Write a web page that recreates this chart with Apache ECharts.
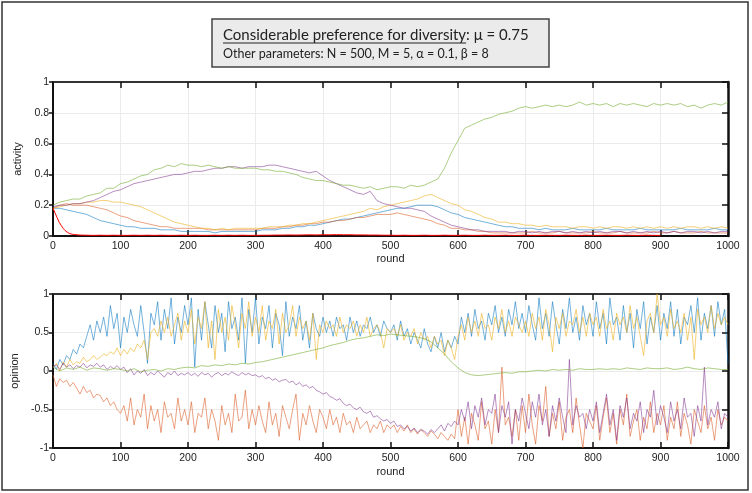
<!DOCTYPE html>
<html>
<head>
<meta charset="utf-8">
<script src="https://cdn.jsdelivr.net/npm/echarts@6/dist/echarts.min.js"></script>
<style>
  html, body { margin: 0; padding: 0; background: #fff; }
  #chart { width: 752px; height: 493px; }
</style>
</head>
<body>
<div id="chart"></div>
<script>
// sampling grids (rounds)
const rounds10 = Array.from({ length: 101 }, (_, i) => i * 10);
const rounds5 = Array.from({ length: 201 }, (_, i) => i * 5);
const redRounds = [0, 3, 6, 9, 12, 15, 18, 21, 25, 30].concat(rounds10.slice(4));

const xTicks = { min: 0, max: 1000, step: 100 };
const activityTicks = { min: 0, max: 1, step: 0.2 };
const opinionTicks = { min: -1, max: 1, step: 0.5 };

// activity, read every 10 rounds
const actBlue = [
  0.18,0.18,0.17,0.16,0.15,0.14,0.12,0.10,0.09,0.08,
  0.07,0.06,0.06,0.05,0.05,0.05,0.04,0.04,0.04,0.03,
  0.03,0.03,0.03,0.03,0.02,0.03,0.03,0.03,0.03,0.03,
  0.03,0.04,0.04,0.04,0.05,0.05,0.06,0.06,0.07,0.07,
  0.08,0.09,0.10,0.11,0.11,0.12,0.13,0.14,0.15,0.16,
  0.17,0.18,0.18,0.19,0.20,0.20,0.20,0.19,0.17,0.15,
  0.14,0.12,0.11,0.10,0.09,0.08,0.07,0.06,0.06,0.05,
  0.05,0.05,0.04,0.05,0.04,0.04,0.04,0.05,0.04,0.04,
  0.04,0.04,0.05,0.04,0.04,0.04,0.04,0.05,0.04,0.04,
  0.04,0.04,0.04,0.05,0.04,0.04,0.04,0.04,0.05,0.04,
  0.04
];
const actSalmon = [
  0.18,0.20,0.21,0.20,0.20,0.20,0.19,0.18,0.17,0.15,
  0.13,0.12,0.10,0.09,0.08,0.07,0.06,0.06,0.05,0.05,
  0.05,0.05,0.05,0.04,0.04,0.04,0.04,0.04,0.04,0.04,
  0.04,0.05,0.05,0.05,0.06,0.06,0.07,0.07,0.08,0.08,
  0.09,0.09,0.10,0.10,0.11,0.12,0.12,0.13,0.14,0.14,
  0.14,0.15,0.14,0.13,0.12,0.11,0.10,0.08,0.07,0.05,
  0.05,0.04,0.04,0.03,0.03,0.02,0.02,0.02,0.02,0.02,
  0.02,0.03,0.02,0.02,0.02,0.03,0.02,0.02,0.02,0.02,
  0.03,0.02,0.02,0.02,0.03,0.02,0.02,0.02,0.02,0.03,
  0.02,0.02,0.03,0.02,0.02,0.02,0.03,0.02,0.02,0.02,
  0.02
];
const actYellow = [
  0.18,0.19,0.20,0.21,0.21,0.22,0.22,0.23,0.23,0.22,
  0.22,0.21,0.20,0.19,0.17,0.15,0.13,0.11,0.09,0.08,
  0.07,0.06,0.05,0.05,0.04,0.05,0.04,0.05,0.05,0.05,
  0.05,0.05,0.06,0.06,0.06,0.07,0.07,0.08,0.08,0.09,
  0.10,0.11,0.12,0.13,0.14,0.15,0.16,0.18,0.17,0.19,
  0.20,0.21,0.22,0.23,0.24,0.26,0.27,0.25,0.23,0.21,
  0.20,0.17,0.16,0.14,0.12,0.11,0.09,0.09,0.08,0.08,
  0.07,0.07,0.06,0.07,0.06,0.06,0.06,0.05,0.06,0.06,
  0.05,0.06,0.05,0.06,0.06,0.05,0.06,0.05,0.06,0.05,
  0.06,0.05,0.06,0.05,0.06,0.06,0.05,0.06,0.05,0.06,
  0.05
];
const actPurple = [
  0.19,0.20,0.20,0.21,0.21,0.22,0.23,0.25,0.27,0.29,
  0.30,0.32,0.34,0.35,0.36,0.37,0.38,0.39,0.40,0.40,
  0.41,0.42,0.42,0.43,0.44,0.44,0.45,0.45,0.44,0.45,
  0.45,0.45,0.46,0.46,0.45,0.44,0.43,0.42,0.41,0.42,
  0.39,0.36,0.34,0.32,0.30,0.28,0.27,0.29,0.23,0.21,
  0.20,0.19,0.18,0.18,0.17,0.16,0.13,0.11,0.09,0.07,
  0.06,0.05,0.04,0.04,0.03,0.03,0.03,0.03,0.02,0.03,
  0.03,0.02,0.03,0.02,0.03,0.03,0.02,0.03,0.02,0.03,
  0.02,0.03,0.02,0.03,0.03,0.02,0.03,0.02,0.03,0.02,
  0.03,0.02,0.03,0.02,0.03,0.03,0.02,0.03,0.02,0.03,
  0.03
];
const actGreen = [
  0.20,0.22,0.23,0.24,0.24,0.26,0.27,0.28,0.31,0.31,
  0.34,0.35,0.37,0.39,0.40,0.43,0.44,0.46,0.45,0.47,
  0.46,0.46,0.45,0.46,0.45,0.44,0.45,0.44,0.44,0.44,
  0.44,0.43,0.43,0.42,0.42,0.41,0.40,0.38,0.37,0.36,
  0.36,0.35,0.34,0.33,0.33,0.32,0.31,0.32,0.30,0.31,
  0.32,0.32,0.31,0.33,0.32,0.33,0.35,0.37,0.44,0.54,
  0.62,0.70,0.72,0.74,0.76,0.77,0.79,0.80,0.81,0.83,
  0.84,0.83,0.84,0.85,0.84,0.85,0.84,0.85,0.87,0.85,
  0.86,0.85,0.86,0.84,0.86,0.85,0.86,0.85,0.84,0.86,
  0.85,0.86,0.85,0.86,0.84,0.85,0.83,0.85,0.86,0.85,
  0.87
];
const actRed = [
  0.18,0.15,0.12,0.09,0.07,0.05,0.035,0.025,0.015,0.01,
  0.006,0.005,0.004,0.005,0.004,0.005,0.004,0.004,0.005,0.004,
  0.005,0.004,0.005,0.004,0.004,0.005,0.004,0.005,0.004,0.004,
  0.005,0.004,0.005,0.004,0.005,0.004,0.004,0.005,0.005,0.006,
  0.006,0.007,0.006,0.007,0.008,0.007,0.008,0.008,0.009,0.008,
  0.008,0.007,0.007,0.006,0.006,0.005,0.005,0.004,0.005,0.004,
  0.004,0.005,0.004,0.004,0.005,0.004,0.004,0.005,0.004,0.004,
  0.005,0.004,0.004,0.005,0.004,0.004,0.005,0.004,0.004,0.005,
  0.004,0.004,0.005,0.004,0.004,0.005,0.004,0.004,0.005,0.004,
  0.004,0.005,0.004,0.004,0.005,0.004,0.004
];

// opinion, read every 5 rounds (noisy) or every 10 rounds (green)
const opBlue = [
  0.10,0.02,0.15,0.08,0.20,0.15,0.28,0.22,0.35,0.30,0.45,0.60,0.40,0.65,0.50,0.70,0.45,0.85,0.55,0.75,
  0.30,0.70,0.50,0.80,0.60,0.45,0.85,0.50,0.10,0.75,0.60,0.90,0.40,0.80,0.55,0.95,0.35,0.70,0.50,0.85,
  0.60,0.95,0.05,0.80,0.40,0.90,0.60,0.30,0.85,0.50,0.75,0.25,0.90,0.55,0.70,0.40,0.95,0.10,0.80,0.50,
  0.95,0.35,0.70,0.55,0.85,0.30,0.75,0.60,0.20,0.90,0.45,0.70,0.55,0.85,0.40,0.65,0.30,0.75,0.55,0.45,
  0.70,0.50,0.65,0.45,0.70,0.55,0.60,0.40,0.70,0.50,0.65,0.45,0.60,0.55,0.70,0.50,0.60,0.45,0.65,0.55,
  0.50,0.60,0.40,0.65,0.45,0.55,0.35,0.50,0.40,0.30,0.55,0.35,0.25,0.45,0.30,0.50,0.25,0.40,0.30,0.45,
  0.35,0.70,0.50,0.75,0.45,0.80,0.55,0.65,0.40,0.75,0.60,0.85,0.50,0.70,0.45,0.80,0.60,0.90,0.55,0.75,
  0.50,0.85,0.60,0.40,0.95,0.55,0.75,0.45,0.90,0.60,0.35,0.80,0.55,0.95,0.50,0.70,0.40,0.85,0.60,0.75,
  0.45,0.90,0.55,0.75,0.35,0.95,0.60,0.70,0.40,0.85,0.50,0.75,0.30,0.80,0.55,0.90,0.35,0.70,0.50,0.85,
  0.40,0.75,0.55,0.90,0.45,0.80,0.35,0.70,0.60,0.85,0.50,0.95,0.40,0.75,0.55,0.85,0.45,0.90,0.60,0.80,
  0.10
];
const opOrange = [
  -0.05,-0.20,-0.10,-0.15,-0.12,-0.20,-0.15,-0.22,-0.30,-0.20,-0.28,-0.25,-0.35,-0.30,-0.32,-0.40,-0.35,-0.45,-0.40,-0.50,
  -0.55,-0.45,-0.65,-0.35,-0.70,-0.50,-0.60,-0.30,-0.75,-0.45,-0.65,-0.50,-0.80,-0.40,-0.60,-0.55,-0.75,-0.35,-0.65,-0.50,
  -0.70,-0.40,-0.80,-0.55,-0.60,-0.35,-0.75,-0.50,-0.65,-0.90,-0.45,-0.70,-0.55,-0.80,-0.30,-0.65,-0.60,-0.25,-0.75,-0.50,
  -0.70,-0.45,-0.65,-0.80,-0.40,-0.70,-0.55,-0.85,-0.45,-0.60,-0.75,-0.50,-0.30,-0.90,-0.55,-0.70,-0.45,-0.65,-0.80,-0.50,
  -0.60,-0.75,-0.50,-0.70,-0.60,-0.80,-0.55,-0.70,-0.65,-0.80,-0.60,-0.75,-0.70,-0.65,-0.80,-0.70,-0.75,-0.65,-0.80,-0.70,
  -0.75,-0.70,-0.80,-0.72,-0.78,-0.70,-0.80,-0.75,-0.82,-0.76,-0.80,-0.85,-0.78,-0.82,-0.88,-0.80,-0.85,-0.90,-0.82,-0.88,
  -0.50,-0.85,-0.60,-0.95,-0.55,-0.70,-0.90,-0.40,-0.75,-0.65,-0.95,-0.50,-0.80,0.05,-0.70,-0.60,-0.85,-0.50,-0.90,-0.45,
  -0.80,-0.30,-0.70,-0.95,-0.45,-0.65,-0.20,-0.85,-0.55,-0.75,-0.40,-0.90,-0.60,-0.50,-0.80,-0.35,-0.70,-1.00,-0.55,-0.65,
  -0.75,-0.45,-0.90,-0.60,-0.35,-0.80,-0.55,-0.95,-0.50,-0.70,-0.30,-0.85,-0.65,-0.50,-0.90,-0.60,-0.75,-0.40,-0.80,-0.55,
  -0.70,-0.45,-0.90,-0.60,-0.75,-0.40,-0.85,-0.55,-0.70,-0.95,-0.50,-0.65,-0.80,-0.45,-0.75,-0.60,-0.90,-0.50,-0.70,-0.60,
  -0.65
];
const opYellow = [
  0.05,0.10,0.00,0.12,0.05,0.15,0.08,0.12,0.10,0.18,0.12,0.15,0.20,0.15,0.18,0.22,0.20,0.25,0.22,0.30,
  0.20,0.28,0.22,0.30,0.25,0.35,0.30,0.40,0.15,0.50,0.55,0.45,0.65,0.50,0.70,0.45,0.60,0.75,0.40,0.65,
  0.50,0.80,0.35,0.70,0.55,0.90,0.30,0.65,0.15,0.80,0.50,0.70,0.40,0.85,0.60,0.30,0.75,0.55,0.90,0.45,
  0.70,0.50,0.85,0.40,0.65,0.55,0.80,0.35,0.75,0.50,0.60,0.85,0.45,0.70,0.55,0.65,0.40,0.75,0.15,0.60,
  0.50,0.65,0.55,0.60,0.45,0.70,0.50,0.60,0.55,0.65,0.45,0.60,0.50,0.70,0.45,0.55,0.60,0.50,0.30,0.55,
  0.50,0.55,0.45,0.60,0.40,0.50,0.45,0.55,0.35,0.50,0.40,0.45,0.30,0.45,0.35,0.40,0.20,0.40,0.30,0.15,
  0.45,0.60,0.40,0.70,0.50,0.65,0.45,0.75,0.55,0.60,0.40,0.70,0.55,0.80,0.50,0.65,0.45,0.70,0.60,0.50,
  0.65,0.45,0.75,0.55,0.70,0.40,0.80,0.60,0.25,0.70,0.55,0.75,0.45,0.65,0.60,0.80,0.50,0.70,0.45,0.75,
  0.60,0.70,0.45,0.80,0.55,0.65,0.40,0.75,0.60,0.70,0.50,0.85,0.55,0.70,0.45,0.20,0.65,0.75,0.50,1.00,
  0.60,0.70,0.45,0.80,0.55,0.65,0.50,0.75,0.40,0.70,0.15,0.80,0.60,0.70,0.50,0.85,0.55,0.75,0.60,0.70,
  0.60
];
const opPurple = [
  0.05,0.08,0.02,0.10,0.05,0.08,0.03,0.07,0.05,0.10,0.04,0.08,0.06,0.10,0.05,0.08,0.02,0.06,0.03,0.07,
  0.02,0.05,-0.02,0.03,-0.05,0.00,-0.03,0.02,-0.06,-0.02,-0.05,0.00,-0.04,-0.08,-0.02,-0.05,0.00,-0.06,-0.03,-0.05,
  -0.02,-0.06,-0.03,-0.07,-0.02,-0.05,-0.03,-0.08,-0.04,-0.02,-0.06,-0.03,-0.05,-0.01,-0.04,-0.06,-0.02,-0.05,-0.03,-0.06,
  -0.05,-0.08,-0.06,-0.10,-0.08,-0.12,-0.10,-0.14,-0.12,-0.11,-0.15,-0.13,-0.18,-0.15,-0.20,-0.18,-0.22,-0.20,-0.25,-0.27,
  -0.30,-0.28,-0.33,-0.35,-0.38,-0.36,-0.42,-0.45,-0.43,-0.48,-0.50,-0.47,-0.53,-0.55,-0.52,-0.60,-0.58,-0.62,-0.65,-0.63,
  -0.68,-0.65,-0.72,-0.70,-0.75,-0.72,-0.78,-0.74,-0.80,-0.76,-0.78,-0.82,-0.76,-0.80,-0.75,-0.70,-0.78,-0.68,-0.72,-0.65,
  -0.70,-0.50,-0.65,-0.40,-0.75,-0.45,-0.60,-0.35,-0.70,-0.50,-0.55,-0.30,-0.80,-0.45,-0.60,-0.40,-0.95,-0.50,-0.65,-0.35,
  -0.55,-0.75,-0.40,-0.60,-0.30,-0.70,-0.50,-0.85,-0.45,-0.65,-0.35,-0.60,-0.80,0.15,-0.70,-0.45,-0.60,-0.55,-0.75,-0.50,
  -0.65,-0.40,-0.80,-0.55,-0.30,-0.70,-0.50,-0.90,-0.45,-0.60,-0.35,-0.75,-0.55,-0.65,-0.40,-0.80,-0.50,-0.60,-0.25,-0.70,
  -0.45,-0.60,-0.80,-0.40,-0.65,-0.50,-0.75,-0.35,-0.60,-0.55,-0.85,-0.45,-0.65,0.05,-0.70,-0.50,-0.60,-0.40,-0.75,-0.55,
  -0.60
];
const opGreen = [
  0.05,0.00,0.04,0.02,0.05,0.01,0.04,0.03,0.01,0.03,
  0.02,0.00,0.03,-0.01,0.01,0.02,0.00,0.03,0.02,0.04,
  0.05,0.04,0.07,0.06,0.08,0.07,0.09,0.08,0.10,0.09,
  0.11,0.12,0.14,0.16,0.18,0.20,0.22,0.24,0.26,0.28,
  0.30,0.33,0.35,0.37,0.40,0.42,0.43,0.45,0.47,0.46,
  0.48,0.47,0.46,0.45,0.44,0.42,0.38,0.30,0.22,0.12,
  0.04,-0.02,-0.05,-0.06,-0.05,-0.04,-0.03,-0.02,-0.03,-0.01,
  -0.01,0.00,0.01,0.00,0.02,0.01,0.02,0.01,0.03,0.02,
  0.02,0.03,0.02,0.03,0.02,0.04,0.03,0.02,0.04,0.03,
  0.03,0.04,0.02,0.03,0.05,0.03,0.02,0.04,0.03,0.02,
  0.02
];

const titleMain = 'Considerable preference for diversity';
const titleRest = ': \u03bc = 0.75';
const subtitle = 'Other parameters: N = 500, M = 5, \u03b1 = 0.1, \u03b2 = 8';

const colors = {
  blue: 'rgba(0,114,189,0.55)',
  orange: 'rgba(217,83,25,0.55)',
  yellow: 'rgba(237,177,32,0.6)',
  purple: 'rgba(126,47,142,0.55)',
  green: 'rgba(119,172,48,0.6)',
  red: '#ff0000'
};

const pts = (xs, ys) => xs.map((x, i) => [x, ys[i]]);

const titleFont = '15px Lato';
const measure = document.createElement('canvas').getContext('2d');
measure.font = titleFont;
const mainWidth = measure.measureText(titleMain).width;

const labelStyle = { color: '#222', fontSize: 10.5, fontFamily: 'Liberation Sans' };
const nameStyle = { color: '#222', fontSize: 11, fontFamily: 'Liberation Sans' };
const plain = v => String(v);

function xAxes(grid, gap) {
  return [
    {
      gridIndex: grid, type: 'value', min: xTicks.min, max: xTicks.max, interval: xTicks.step,
      name: 'round', nameLocation: 'middle', nameGap: gap, nameTextStyle: nameStyle,
      axisLine: { onZero: false, lineStyle: { color: '#111', width: 2 } },
      axisTick: { inside: true, length: 6, lineStyle: { color: '#111', width: 1.5 } },
      axisLabel: Object.assign({ margin: 5, formatter: plain }, labelStyle),
      splitLine: { show: true, lineStyle: { color: '#ebebeb', width: 1 } }
    },
    {
      gridIndex: grid, type: 'value', position: 'top', min: xTicks.min, max: xTicks.max, interval: xTicks.step,
      axisLine: { onZero: false, lineStyle: { color: '#333', width: 2 } },
      axisTick: { inside: true, length: 6, lineStyle: { color: '#111', width: 1.5 } },
      axisLabel: { show: false },
      splitLine: { show: false }
    }
  ];
}

function yAxes(grid, ticks, name, gap) {
  return [
    {
      gridIndex: grid, type: 'value', min: ticks.min, max: ticks.max, interval: ticks.step,
      name: name, nameLocation: 'middle', nameGap: gap, nameTextStyle: nameStyle,
      axisLine: { onZero: false, lineStyle: { color: '#111', width: 2 } },
      axisTick: { inside: false, length: 4, lineStyle: { color: '#111', width: 1.5 } },
      axisLabel: Object.assign({ margin: 4, formatter: plain }, labelStyle),
      splitLine: { show: true, lineStyle: { color: '#ebebeb', width: 1 } }
    },
    {
      gridIndex: grid, type: 'value', position: 'right', min: ticks.min, max: ticks.max, interval: ticks.step,
      axisLine: { onZero: false, lineStyle: { color: '#111', width: 2.5 } },
      axisTick: { inside: true, length: 6, lineStyle: { color: '#111', width: 1.5 } },
      axisLabel: { show: false },
      splitLine: { show: false }
    }
  ];
}

function line(xIdx, yIdx, xs, ys, color, width) {
  return {
    type: 'line', xAxisIndex: xIdx, yAxisIndex: yIdx,
    data: pts(xs, ys), showSymbol: false, symbol: 'none', silent: true,
    lineStyle: { color: color, width: width || 1 }
  };
}

const chart = echarts.init(document.getElementById('chart'));
chart.setOption({
  animation: false,
  grid: [
    { left: 53, right: 24, top: 82, height: 154 },
    { left: 53, right: 24, top: 294, height: 154 }
  ],
  xAxis: xAxes(0, 17).concat(xAxes(1, 18)),
  yAxis: yAxes(0, activityTicks, 'activity', 19).concat(yAxes(1, opinionTicks, 'opinion', 25)),
  series: [
    line(0, 0, rounds10, actBlue, colors.blue),
    line(0, 0, rounds10, actSalmon, colors.orange),
    line(0, 0, rounds10, actYellow, colors.yellow),
    line(0, 0, rounds10, actPurple, colors.purple),
    line(0, 0, rounds10, actGreen, colors.green),
    line(0, 0, redRounds, actRed, colors.red, 1),
    line(2, 2, rounds5, opBlue, colors.blue),
    line(2, 2, rounds5, opOrange, colors.orange),
    line(2, 2, rounds5, opYellow, colors.yellow),
    line(2, 2, rounds5, opPurple, colors.purple),
    line(2, 2, rounds10, opGreen, colors.green)
  ],
  graphic: [
    {
      type: 'rect', shape: { x: 2, y: 2, width: 746, height: 488 },
      style: { fill: 'none', stroke: '#333', lineWidth: 1.5 }, silent: true
    },
    {
      type: 'rect', shape: { x: 212, y: 19, width: 337, height: 48 },
      style: { fill: '#ebebeb', stroke: '#444', lineWidth: 1.5 }, silent: true
    },
    {
      type: 'text', x: 223, y: 35,
      style: { text: titleMain, font: titleFont, fill: '#222', textVerticalAlign: 'middle' }
    },
    {
      type: 'line', shape: { x1: 223, y1: 43, x2: 223 + mainWidth, y2: 43 },
      style: { stroke: '#222', lineWidth: 1 }
    },
    {
      type: 'text', x: 223 + mainWidth, y: 35,
      style: { text: titleRest, font: titleFont, fill: '#222', textVerticalAlign: 'middle' }
    },
    {
      type: 'text', x: 223, y: 54,
      style: { text: subtitle, font: '12.5px Lato', fill: '#222', textVerticalAlign: 'middle' }
    }
  ]
});
</script>
</body>
</html>
